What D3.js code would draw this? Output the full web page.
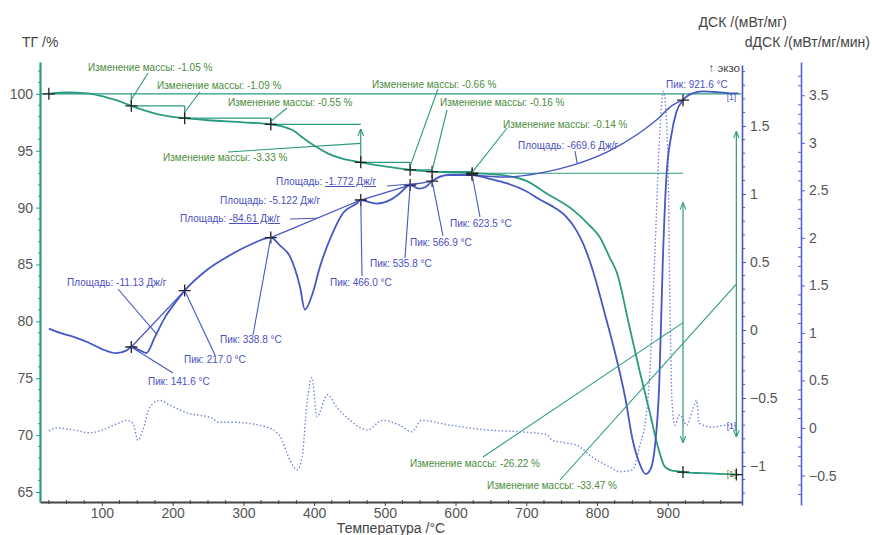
<!DOCTYPE html>
<html><head><meta charset="utf-8">
<script src="https://cdn.jsdelivr.net/npm/d3@7"></script>
<style>
body{margin:0;background:#fff}
svg{display:block}
text{font-family:"Liberation Sans",Arial,sans-serif}
</style>
</head><body>
<svg id="c" width="872" height="535"></svg>
<script>
// ---------------- DATA ----------------
// TG curve (temperature °C, mass %)
const tgTemp = [25,50,80,100,120,141.6,160,180,200,217,250,300,338.8,355,370,385,400,420,440,466,500,535.8,566.9,600,623.5,650,672,700,730,766,790,804,818,828,846,860,875,886,896,905,917,921.6,950,1000];
const tgMass = [100.0,100.12,100.05,99.8,99.45,98.95,98.55,98.2,97.98,97.86,97.68,97.5,97.31,97.15,96.8,96.1,95.45,94.75,94.3,93.98,93.62,93.32,93.16,93.08,93.02,92.95,92.8,92.35,91.2,89.8,88.4,87.4,85.6,84.3,79.5,75.7,71.9,69.0,67.2,66.9,66.8,66.75,66.65,66.53];

// DSC curve (temperature °C, mW/mg)
const dscTemp = [25,40,60,80,100,120,135,141.6,150,163,175,190,205,217,248,281,309,338.8,352,366,380,387,398,408,426,441,460,466,478,489,507,520,535.8,548,557,566.9,590,623.5,650,672,700,719,740,757,770,780,794,810,828,840,850,860,869,876,882,888,893,898,905,912,921.6,935,950,970,990,1000];
const dscVal  = [0.01,-0.02,-0.05,-0.09,-0.14,-0.17,-0.15,-0.125,-0.14,-0.17,-0.05,0.10,0.21,0.29,0.44,0.55,0.625,0.68,0.62,0.54,0.32,0.15,0.27,0.46,0.71,0.86,0.93,0.956,0.94,0.93,0.955,1.0,1.066,1.04,1.05,1.095,1.14,1.14,1.11,1.08,1.02,0.96,0.90,0.83,0.74,0.64,0.44,0.14,-0.22,-0.50,-0.80,-0.98,-1.06,-1.02,-0.85,-0.40,0.50,1.12,1.43,1.60,1.69,1.74,1.755,1.75,1.74,1.74];

// dDSC curve (temperature °C, mW/mg/min)
const ddscTemp = [25,36,60,83,101,120,135,144,151,158,168,182,196,220,257,264,285,333,352,366,376,383,390,397,404,419,432,451,475,497,521,538,552,592,644,691,729,737,751,771,794,818,832,850,860,870,874,882,889,894,900,903,906,910,917,927,935,941,944,964,983,1000];
const ddscVal  = [-0.03,0.0,-0.02,-0.05,-0.02,0.04,0.08,0.05,-0.13,-0.02,0.22,0.29,0.24,0.16,0.10,0.06,0.06,0.01,-0.09,-0.34,-0.44,-0.31,0.26,0.53,0.12,0.35,0.22,0.08,-0.02,0.08,0.03,-0.04,0.08,0.03,-0.02,-0.04,-0.07,-0.13,-0.15,-0.18,-0.31,-0.41,-0.46,-0.44,-0.20,0.16,0.50,1.87,3.14,3.54,2.93,1.35,0.29,0.03,0.14,0.03,0.19,0.29,0.05,0.01,0.03,0.02];

// sigmoid integration baseline 623.5 -> 921.6 °C (DSC units)
const baseTemp = [623.5,672,719,766,814,860,884,907,921.6];
const baseVal  = [1.14,1.125,1.154,1.213,1.309,1.449,1.544,1.654,1.69];

// Mass-change steps
const stepTemps = [25,141.6,217.0,338.8,466.0,535.8,566.9,623.5,921.6,1000];
const stepMass  = [100,98.95,97.86,97.31,93.98,93.32,93.16,93.02,66.75,66.53];
const massChangeLabels = ["-1.05","-1.09","-0.55","-3.33","-0.66","-0.16","-0.14","-26.22","-33.47"];

// DSC peaks
const peakTemps = [141.6,217.0,338.8,466.0,535.8,566.9,623.5,921.6];
const peakLabels = ["141.6","217.0","338.8","466.0","535.8","566.9","623.5","921.6"];

// DSC areas (J/g)
const areaLabels = ["-11.13","-84.61","-5.122","-1.772","-669.6"];
const areaTargets = [178,404,null,550,772];   // temperature pointed to by leader

// Axis ticks
const xTicks = [100,200,300,400,500,600,700,800,900];
const tgTicks = [65,70,75,80,85,90,95,100];
const dscTicks = [-1,-0.5,0,0.5,1,1.5];
const ddscTicks = [-0.5,0,0.5,1,1.5,2,2.5,3,3.5];

// ---------------- LAYOUT ----------------
const C = {tg:"#2a9a80", dsc:"#4657c4", ddsc:"#6f80dc", txtG:"#4c8c3c", txtB:"#4a50c0", axis:"#555", tick:"#555"};
const svg = d3.select("#c");
const x = d3.scaleLinear().domain([12.5,1005]).range([40,742]);
const yTG = d3.scaleLinear().domain([64.12,102.8]).range([502,62]);
const yDSC = d3.scaleLinear().domain([-1.287,1.949]).range([505,65]);
const yD2 = d3.scaleLinear().domain([-0.81,3.85]).range([505,62]);

function interp(xs, ys, t){
  let i = d3.bisectLeft(xs, t);
  if (xs[i] === t) return ys[i];
  i = Math.max(1, Math.min(xs.length-1, i));
  const a = xs[i-1], b = xs[i];
  return ys[i-1] + (ys[i]-ys[i-1])*(t-a)/(b-a);
}

const defs = svg.append("defs");
defs.append("marker").attr("id","arrG").attr("viewBox","0 0 10 10").attr("refX",9).attr("refY",5)
  .attr("markerWidth",6).attr("markerHeight",6).attr("orient","auto-start-reverse")
  .append("path").attr("d","M0,1 L10,5 L0,9").attr("fill","none").attr("stroke",C.tg).attr("stroke-width",1.5);

// ---- axes ----
function styleAxis(g, col){
  g.selectAll("path.domain").attr("stroke",col).attr("stroke-width",1.6);
  g.selectAll(".tick line").attr("stroke",col);
  g.selectAll(".tick text").attr("fill",C.tick).attr("font-size",14).attr("font-family","Liberation Sans, Arial, sans-serif");
}
// X axis
const gx = svg.append("g").attr("transform","translate(0,502)");
gx.call(d3.axisBottom(x).tickValues(xTicks).tickSize(4).tickPadding(2).tickSizeOuter(0));
styleAxis(gx,"#444");
gx.selectAll("path.domain").attr("stroke-width",1.8);
gx.append("g").selectAll("line").data(d3.range(25,1001,25).filter(v=>v%100!==0))
  .join("line").attr("x1",d=>x(d)).attr("x2",d=>x(d)).attr("y1",-2).attr("y2",2).attr("stroke","#444");

// left TG axis
const gl = svg.append("g").attr("transform","translate(40,0)");
gl.call(d3.axisLeft(yTG).tickValues(tgTicks).tickSize(4).tickPadding(3).tickSizeOuter(0));
styleAxis(gl,C.tg);
gl.selectAll("path.domain").attr("stroke-width",2.2);
gl.append("g").selectAll("line").data(d3.range(65,103,1).filter(v=>v%5!==0))
  .join("line").attr("x1",-2).attr("x2",0).attr("y1",d=>yTG(d)).attr("y2",d=>yTG(d)).attr("stroke",C.tg);

// DSC axis
const gr1 = svg.append("g").attr("transform","translate(742,0)");
gr1.call(d3.axisRight(yDSC).tickValues(dscTicks).tickSize(4).tickPadding(4).tickSizeOuter(0).tickFormat(d3.format("")));
styleAxis(gr1,C.dsc);
gr1.append("g").selectAll("line").data(d3.range(-12,20,1).map(v=>v/10).filter(v=>Math.abs(v*2-Math.round(v*2))>0.01))
  .join("line").attr("x1",0).attr("x2",3).attr("y1",d=>yDSC(d)).attr("y2",d=>yDSC(d)).attr("stroke",C.dsc);

// dDSC axis
const gr2 = svg.append("g").attr("transform","translate(801,0)");
gr2.call(d3.axisRight(yD2).tickValues(ddscTicks).tickSize(4).tickPadding(4).tickSizeOuter(0).tickFormat(d3.format("")));
styleAxis(gr2,"#5a5ed6");
gr2.append("g").selectAll("line").data(d3.range(-7,38,1).map(v=>v/10).filter(v=>Math.abs(v*2-Math.round(v*2))>0.01))
  .join("line").attr("x1",-3).attr("x2",0).attr("y1",d=>yD2(d)).attr("y2",d=>yD2(d)).attr("stroke","#5a5ed6");

// axis titles
svg.append("text").attr("x",22).attr("y",47).attr("font-size",14).attr("fill","#444").text("ТГ /%");
svg.append("text").attr("x",787).attr("y",27).attr("text-anchor","end").attr("font-size",14).attr("fill","#444").text("ДСК /(мВт/мг)");
svg.append("text").attr("x",870).attr("y",47).attr("text-anchor","end").attr("font-size",14).attr("fill","#444").text("dДСК /(мВт/мг/мин)");
svg.append("text").attr("x",740).attr("y",72).attr("text-anchor","end").attr("font-size",11.5).attr("fill","#444").text("↑ экзо");
svg.append("text").attr("x",391).attr("y",533).attr("text-anchor","middle").attr("font-size",14).attr("fill","#444").text("Температура /°C");

// ---- mass-change brackets ----
const gB = svg.append("g").attr("stroke",C.tg).attr("stroke-width",1.2).attr("fill","none");
gB.append("line").attr("x1",x(12.5)).attr("x2",x(1004)).attr("y1",yTG(100)).attr("y2",yTG(100));
for (let i=0;i<8;i++){
  const t0=stepTemps[i], t1=stepTemps[i+1], m0=stepMass[i], m1=stepMass[i+1];
  if (i>0) gB.append("line").attr("x1",x(t0)).attr("x2",x(t1)).attr("y1",yTG(m0)).attr("y2",yTG(m0));
  const big = (m0-m1) > 3;
  const ins = i===7 ? 0.1*(yTG(m1)-yTG(m0)) : (big ? 5 : 0);
  const ln = gB.append("line").attr("x1",x(t1)).attr("x2",x(t1)).attr("y1",yTG(m0)+ins).attr("y2",yTG(m1)-(i===7?ins:0));
  if (big) { ln.attr("marker-start","url(#arrG)"); if(i===7) ln.attr("marker-end","url(#arrG)"); }
}
{ // total
  const t1=stepTemps[9]-3, m0=stepMass[0], m1=stepMass[9];
  const ins = 0.1*(yTG(m1)-yTG(m0));
  gB.append("line").attr("x1",x(t1)).attr("x2",x(t1)).attr("y1",yTG(m0)+ins).attr("y2",yTG(m1)-ins)
    .attr("marker-start","url(#arrG)").attr("marker-end","url(#arrG)");
}

// ---- curves ----
const lineG = (xs,ys,yS)=> d3.line().x((d,i)=>x(xs[i])).y((d,i)=>yS(ys[i])).curve(d3.curveMonotoneX)(xs);
svg.append("path").attr("d",lineG(ddscTemp,ddscVal,yD2)).attr("fill","none").attr("stroke",C.ddsc)
  .attr("stroke-width",1.4).attr("stroke-dasharray","1.4,2.2");
svg.append("path").attr("d",lineG(tgTemp,tgMass,yTG)).attr("fill","none").attr("stroke",C.tg).attr("stroke-width",1.8);
svg.append("path").attr("d",lineG(dscTemp,dscVal,yDSC)).attr("fill","none").attr("stroke",C.dsc).attr("stroke-width",1.8);
svg.append("path").attr("d",lineG(baseTemp,baseVal,yDSC)).attr("fill","none").attr("stroke",C.dsc).attr("stroke-width",1.4);

// straight integration baselines
const gBase = svg.append("g").attr("stroke",C.dsc).attr("stroke-width",1.3);
[[141.6,217.0],[338.8,466.0],[466.0,535.8],[535.8,566.9]].forEach(([a,b])=>{
  gBase.append("line").attr("x1",x(a)).attr("y1",yDSC(interp(dscTemp,dscVal,a)))
    .attr("x2",x(b)).attr("y2",yDSC(interp(dscTemp,dscVal,b)));
});

// ---- markers ----
function cross(px,py){
  svg.append("path").attr("d",`M${px-6},${py}H${px+6}M${px},${py-6}V${py+6}`).attr("stroke","#222").attr("stroke-width",1.3);
}
stepTemps.forEach((t,i)=>cross(x(i===9?t-3:t), yTG(stepMass[i])));
peakTemps.forEach(t=>cross(x(t), yDSC(interp(dscTemp,dscVal,t))));

// ---- green annotations ----
const massLayout = [
  {tx:88,ty:71,lx:148,ly:73},{tx:157,ty:89,lx:200,ly:92},{tx:228,ty:106,lx:287,ly:108},
  {tx:163,ty:161,lx:228,ly:152},{tx:372,ty:88,lx:438,ly:89},{tx:440,ty:106,lx:447,ly:110},
  {tx:503,ty:128,lx:507,ly:128},{tx:410,ty:467,lx:483,ly:457},{tx:487,ty:489,lx:560,ly:480}
];
massChangeLabels.forEach((lab,i)=>{
  const L = massLayout[i];
  let ex, ey;
  if (i<8){ ex = x(stepTemps[i+1]); ey = (yTG(stepMass[i])+yTG(stepMass[i+1]))/2; }
  else { ex = x(stepTemps[9]-3); ey = (yTG(stepMass[0])+yTG(stepMass[9]))/2; }
  svg.append("line").attr("x1",L.lx).attr("y1",L.ly).attr("x2",ex).attr("y2",ey).attr("stroke",C.tg).attr("stroke-width",1.1);
  svg.append("text").attr("x",L.tx).attr("y",L.ty).attr("font-size",10).attr("fill",C.txtG)
    .text(`Изменение массы: ${lab} %`);
});

// ---- blue annotations ----
const peakLayout = [
  {tx:148,ty:385,lx:173,ly:373},{tx:184,ty:363,lx:215,ly:355},{tx:220,ty:343,lx:253,ly:335},
  {tx:330,ty:286,lx:362,ly:276},{tx:370,ty:267,lx:405,ly:258},{tx:410,ty:246,lx:443,ly:236},
  {tx:450,ty:227,lx:480,ly:217},{tx:666,ty:88,lx:null,ly:null}
];
peakTemps.forEach((t,i)=>{
  const L = peakLayout[i];
  if (L.lx!==null) svg.append("line").attr("x1",x(t)).attr("y1",yDSC(interp(dscTemp,dscVal,t)))
    .attr("x2",L.lx).attr("y2",L.ly).attr("stroke",C.dsc).attr("stroke-width",1.1);
  svg.append("text").attr("x",L.tx).attr("y",L.ty).attr("font-size",10).attr("fill",C.txtB)
    .text(`Пик: ${peakLabels[i]} °C`);
});

const areaLayout = [
  {tx:67,ty:286,lx:118,ly:289,ul:false},{tx:180,ty:222,lx:290,ly:219,ul:true},
  {tx:220,ty:204,lx:null,ly:null,ul:false},{tx:276,ty:185,lx:387,ly:186,ul:true},
  {tx:518,ty:149,lx:575,ly:151,ul:false}
];
areaLabels.forEach((lab,i)=>{
  const L = areaLayout[i];
  const tt = areaTargets[i];
  if (tt!==null){
    let v;
    if (i===0) v = (interp(dscTemp,dscVal,141.6)*(217-tt) + interp(dscTemp,dscVal,217)*(tt-141.6))/(217-141.6) - 0.11;
    else if (i===1) v = (interp(dscTemp,dscVal,338.8)*(466-tt) + interp(dscTemp,dscVal,466)*(tt-338.8))/(466-338.8);
    else if (i===3) v = (interp(dscTemp,dscVal,535.8)*(566.9-tt) + interp(dscTemp,dscVal,566.9)*(tt-535.8))/(566.9-535.8);
    else v = interp(baseTemp,baseVal,tt);
    svg.append("line").attr("x1",L.lx).attr("y1",L.ly).attr("x2",x(tt)).attr("y2",yDSC(v))
      .attr("stroke",C.dsc).attr("stroke-width",1.1);
  }
  const t = svg.append("text").attr("x",L.tx).attr("y",L.ty).attr("font-size",10).attr("fill",C.txtB);
  t.append("tspan").text("Площадь: ");
  t.append("tspan").attr("text-decoration",L.ul?"underline":null).text(`${lab} Дж/г`);
});

// curve tags
const tagY = [[yDSC(interp(dscTemp,dscVal,990))+4,C.txtB],[yD2(interp(ddscTemp,ddscVal,990)),C.txtB],[yTG(interp(tgTemp,tgMass,990)),C.txtG]];
tagY.forEach(([py,col])=>{
  svg.append("text").attr("x",x(990)).attr("y",py+3).attr("text-anchor","middle").attr("font-size",8.5).attr("fill",col).text("[1]");
});
</script>
</body></html>
